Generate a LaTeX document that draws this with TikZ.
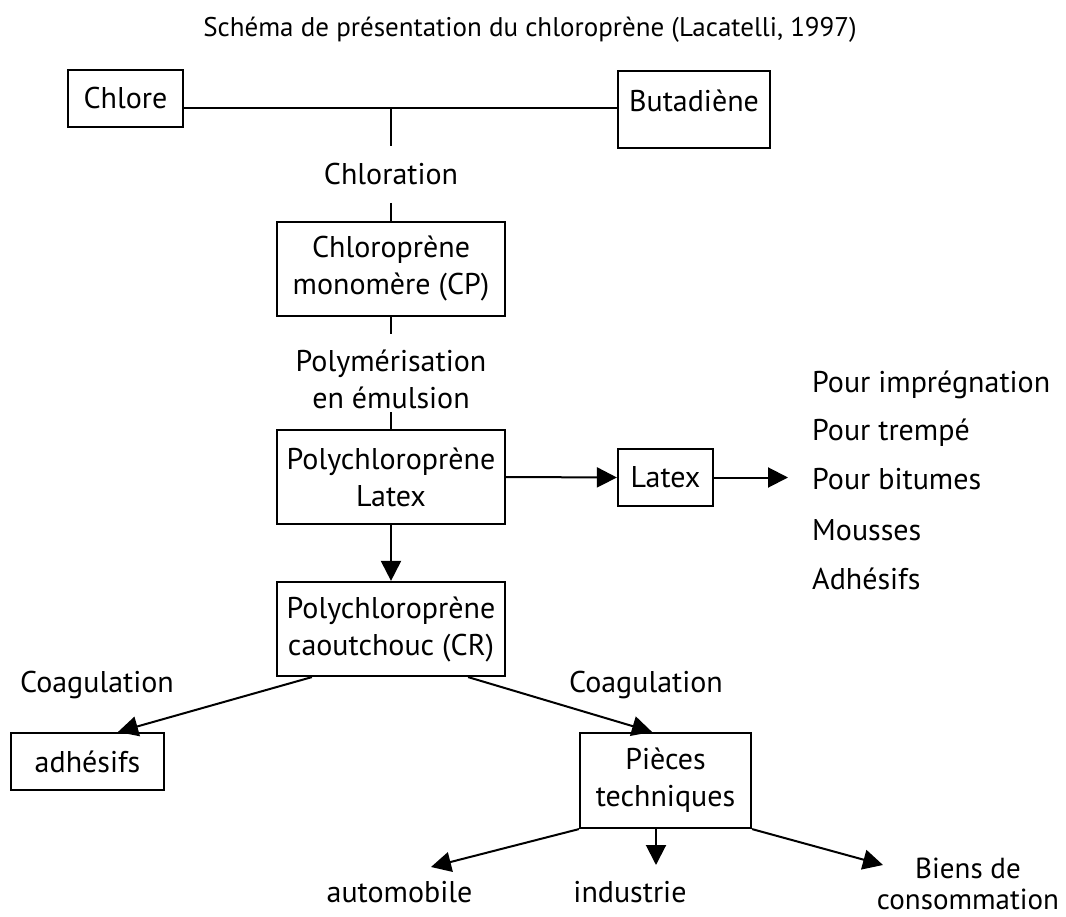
\documentclass[tikz,border=0pt]{standalone}
\usepackage{fontspec}
\setmainfont{PT Sans}
\usetikzlibrary{arrows.meta}
\begin{document}
\begin{tikzpicture}[x=1pt,y=-1pt,
  every node/.style={font=\fontsize{30}{37}\selectfont, align=center},
  box/.style={draw, line width=2.2pt, inner sep=0pt},
  conn/.style={line width=2pt},
  arr/.style={line width=2pt, -{Triangle[length=20pt,width=20pt]}},
  lbl/.style={inner sep=0pt},
  item/.style={anchor=base west, inner sep=0pt}]
\useasboundingbox (0,0) rectangle (1066,917);

% title
\node[lbl, font=\fontsize{27}{33}\selectfont] (title) at (530,30) {Schéma de présentation du chloroprène (Lacatelli, 1997)};

% boxes
\node[box, minimum width=115pt, minimum height=57pt] (chlore) at (125.5,98.5) {Chlore};
\node[box, minimum width=152pt, inner ysep=0pt, text height=40pt, text depth=37pt, anchor=north] (buta) at (694,70) {Butadiène};
\node[box, minimum width=228pt, minimum height=94pt] (cp) at (391,269) {Chloroprène\\monomère (CP)};
\node[box, minimum width=228pt, minimum height=94pt] (pl) at (391,477) {Polychloroprène\\Latex};
\node[box, minimum width=95pt, minimum height=57pt] (latex) at (665.5,477.5) {Latex};
\node[box, minimum width=228pt, minimum height=94pt] (cr) at (391,629) {Polychloroprène\\caoutchouc (CR)};
\node[box, minimum width=153pt, minimum height=57pt] (adh) at (87.5,761.5) {adhésifs};
\node[box, minimum width=171pt, minimum height=95pt] (pieces) at (665.5,780.5) {Pièces\\techniques};

% labels
\node[lbl] (chloration) at (391,174) {Chloration};
\node[lbl] (polym) at (391,379) {Polymérisation\\en émulsion};
\node[lbl] (coagL) at (97,685) {Coagulation};
\node[lbl] (coagR) at (646,685) {Coagulation};
\node[lbl, anchor=base] (auto) at (399.5,902) {automobile};
\node[lbl, anchor=base] (indus) at (630,902) {industrie};
\node[lbl, font=\fontsize{29}{31}\selectfont] (biens) at (968,884) {Biens de\\consommation};

% list
\node[item] (l1) at (812,392) {Pour imprégnation};
\node[item] (l2) at (812,440) {Pour trempé};
\node[item] (l3) at (812,489) {Pour bitumes};
\node[item] (l4) at (812,540) {Mousses};
\node[item] (l5) at (812,589) {Adhésifs};

% connectors
\coordinate (junction) at (391,108);
\coordinate (c1) at (391,146);
\coordinate (c2) at (391,203);
\coordinate (c3) at (391,334);
\coordinate (c4) at (391,412);
\coordinate (latexout) at (788,477.5);
\coordinate (autotip) at (431,867);
\coordinate (industip) at (656,865);
\coordinate (bienstip) at (883,865);
\draw[conn] (chlore.east |- junction) -- (buta.west |- junction);
\draw[conn] (junction) -- (c1);
\draw[conn] (c2) -- (cp.north);
\draw[conn] (cp.south) -- (c3);
\draw[conn] (c4) -- (pl.north);
\draw[arr] (pl.east) -- (latex.west);
\draw[arr] (latex.east) -- (latexout);
\draw[arr] (pl.south) -- (cr.north);
\draw[arr] ([xshift=36pt]cr.south west) -- ([xshift=30.5pt]adh.north);
\draw[arr] ([xshift=-38pt]cr.south east) -- ([xshift=-13.5pt]pieces.north);
\draw[arr] (pieces.south west) -- (autotip);
\draw[arr] (pieces.south -| industip) -- (industip);
\draw[arr] (pieces.south east) -- (bienstip);
\end{tikzpicture}
\end{document}
